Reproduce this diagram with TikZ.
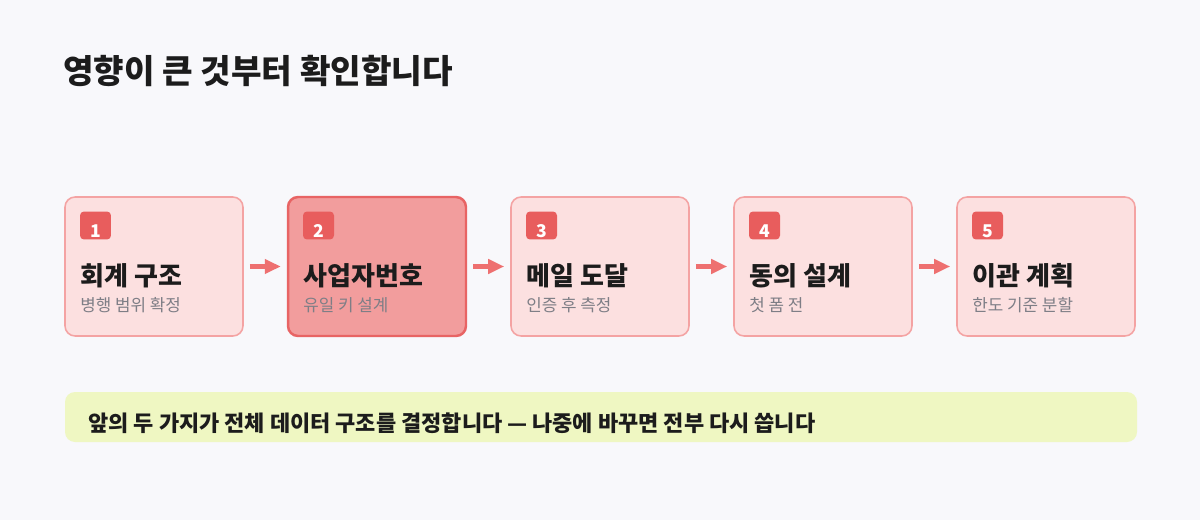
\documentclass[tikz,border=0pt]{standalone}
\usepackage{fontspec}
\setmainfont{Noto Sans CJK KR}
\usepackage{tikz}
\usetikzlibrary{arrows.meta, positioning}
\usepackage{xcolor}
\definecolor{pagebg}{HTML}{F8F8FB}
\definecolor{boxfill}{HTML}{FCE0E0}
\definecolor{boxline}{HTML}{F4A3A3}
\definecolor{hotfill}{HTML}{F29D9D}
\definecolor{hotline}{HTML}{E86464}
\definecolor{badgered}{HTML}{E85D5D}
\definecolor{arrowred}{HTML}{EE7070}
\definecolor{notefill}{HTML}{EFF7C2}
\definecolor{inkdark}{HTML}{1C1C1C}
\definecolor{inkgray}{HTML}{7E7E86}

\begin{document}
\begin{tikzpicture}[x=0.02cm, y=-0.02cm,
		stepbox/.style={draw=boxline, fill=boxfill, line width=0.9pt, rounded corners=0.2cm,
			minimum width=3.56cm, minimum height=2.78cm},
		stepboxhot/.style={stepbox, draw=hotline, fill=hotfill, line width=1.4pt},
		badge/.style={fill=badgered, rounded corners=0.08cm, minimum width=0.62cm, minimum height=0.56cm, inner sep=0pt},
		badgenum/.style={text=white, font=\bfseries\fontsize{10}{12}\selectfont, inner sep=0pt},
		steptitle/.style={anchor=base west, inner sep=0pt, text=inkdark, font=\bfseries\fontsize{14.8}{17}\selectfont},
		stepsub/.style={anchor=base west, inner sep=0pt, text=inkgray, font=\fontsize{9.6}{12}\selectfont},
		flowarrow/.style={-{Triangle[length=0.32cm, width=0.28cm]}, draw=arrowred, line width=2.3pt,
			shorten <=0.12cm, shorten >=0.12cm}]
		% Page
		\useasboundingbox (0,0) rectangle (1200,520);
		\fill[pagebg] (0,0) rectangle (1200,520);

		% Heading
		\node[anchor=base west, inner sep=0pt, text=inkdark, font=\bfseries\fontsize{18.9}{22}\selectfont] (heading) at (63,84) {영향이 큰 것부터 확인합니다};

		% Step boxes
		\node[stepbox] (step1) at (154,266.5) {};
		\node[stepboxhot] (step2) at (377,266.5) {};
		\node[stepbox] (step3) at (600,266.5) {};
		\node[stepbox] (step4) at (823,266.5) {};
		\node[stepbox] (step5) at (1046,266.5) {};

		% Badges
		\node[badge] (badge1) at (95.5,225.5) {};
		\node[badgenum] (num1) at (95.5,231) {1};
		\node[badge] (badge2) at (318.5,225.5) {};
		\node[badgenum] (num2) at (318.5,231) {2};
		\node[badge] (badge3) at (541.5,225.5) {};
		\node[badgenum] (num3) at (541.5,231) {3};
		\node[badge] (badge4) at (764.5,225.5) {};
		\node[badgenum] (num4) at (764.5,231) {4};
		\node[badge] (badge5) at (987.5,225.5) {};
		\node[badgenum] (num5) at (987.5,231) {5};

		% Titles and notes
		\node[steptitle] (title1) at (80,285) {회계 구조};
		\node[stepsub] (sub1) at (80,311) {병행 범위 확정};
		\node[steptitle] (title2) at (303,285) {사업자번호};
		\node[stepsub] (sub2) at (303,311) {유일 키 설계};
		\node[steptitle] (title3) at (526,285) {메일 도달};
		\node[stepsub] (sub3) at (526,311) {인증 후 측정};
		\node[steptitle] (title4) at (749,285) {동의 설계};
		\node[stepsub] (sub4) at (749,311) {첫 폼 전};
		\node[steptitle] (title5) at (972,285) {이관 계획};
		\node[stepsub] (sub5) at (972,311) {한도 기준 분할};

		% Flow
		\draw[flowarrow] (step1.east) -- (step2.west);
		\draw[flowarrow] (step2.east) -- (step3.west);
		\draw[flowarrow] (step3.east) -- (step4.west);
		\draw[flowarrow] (step4.east) -- (step5.west);

		% Note bar
		\fill[notefill, rounded corners=0.2cm] (65,392) rectangle (1137,442);
		\node[anchor=base west, inner sep=0pt, text=inkdark, font=\bfseries\fontsize{12.5}{15}\selectfont] (note) at (88,431) {앞의 두 가지가 전체 데이터 구조를 결정합니다 — 나중에 바꾸면 전부 다시 씁니다};
	\end{tikzpicture}
\end{document}
